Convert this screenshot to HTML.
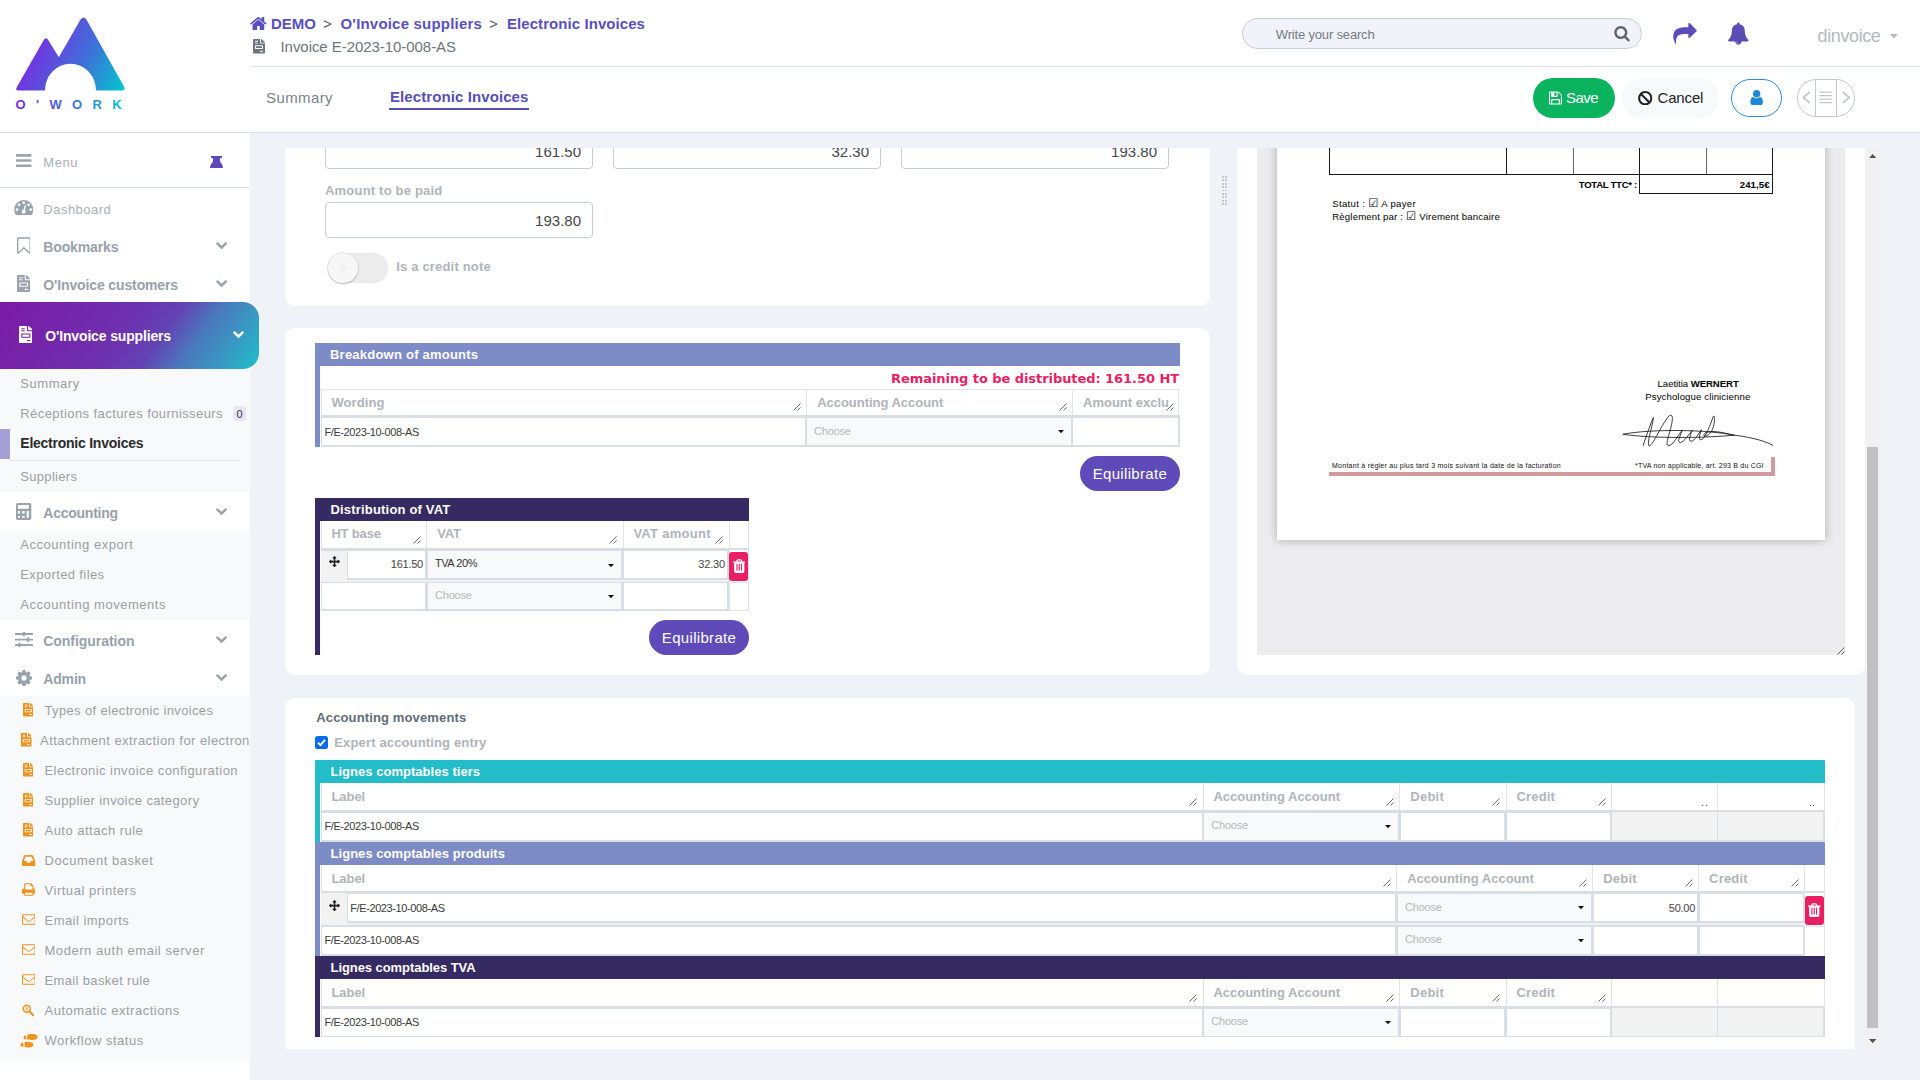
<!DOCTYPE html>
<html lang="en"><head><meta charset="utf-8"><title>Invoice E-2023-10-008-AS</title>
<style>
html,body{margin:0;padding:0}
body{width:1920px;height:1080px;overflow:hidden;position:relative;background:#eff2f7;font-family:"Liberation Sans",sans-serif;}
.a{position:absolute;display:block}
.t{position:absolute;white-space:nowrap;display:block}
</style></head>
<body>
<div class="a" style="left:0px;top:0px;width:250px;height:1080px;background:#fff;"></div>
<svg class="a" style="left:0;top:0" width="250" height="132" viewBox="0 0 250 132">
<defs><linearGradient id="lg" x1="28" y1="45" x2="122" y2="92" gradientUnits="userSpaceOnUse"><stop offset="0" stop-color="#7a2be2"/><stop offset="0.55" stop-color="#3f6fd8"/><stop offset="1" stop-color="#04c4cf"/></linearGradient>
<linearGradient id="lg2" x1="16" y1="0" x2="125" y2="0" gradientUnits="userSpaceOnUse"><stop offset="0" stop-color="#7a2be2"/><stop offset="0.5" stop-color="#3f6fd8"/><stop offset="1" stop-color="#04c4cf"/></linearGradient></defs>
<path fill="url(#lg)" d="M18.6 90.5 Q14.8 90.5 16.9 87 L43.6 40.2 Q46 36.4 48.4 40.2 L58.8 57.2 L80.6 19.6 Q83.5 15.6 86.4 19.6 L124 86.5 Q126 90.5 121.8 90.5 L96 90.5 A25.5 26.8 0 0 0 45 90.5 Z"/>
<text x="15.5" y="109.3" font-family="Liberation Sans, sans-serif" font-weight="700" font-size="13" letter-spacing="10.35" fill="url(#lg2)">O'WORK</text>
</svg>
<svg class="a" style="left:16px;top:154px" width="15.5" height="13" viewBox="0 -1280 1536 1280" preserveAspectRatio="xMidYMid meet"><path fill="#9aa3ad" transform="scale(1,-1)" d="M1536 192C1536 227 1507 256 1472 256H64C29 256 0 227 0 192V64C0 29 29 0 64 0H1472C1507 0 1536 29 1536 64ZM1536 704C1536 739 1507 768 1472 768H64C29 768 0 739 0 704V576C0 541 29 512 64 512H1472C1507 512 1536 541 1536 576ZM1536 1216C1536 1251 1507 1280 1472 1280H64C29 1280 0 1251 0 1216V1088C0 1053 29 1024 64 1024H1472C1507 1024 1536 1053 1536 1088Z"/></svg>
<span class="t" id="t1" style="left:43.3px;top:154.7px;font-size:13px;line-height:15px;color:#a7afb7;letter-spacing:0.542px;">Menu</span>
<svg class="a" style="left:210px;top:155.8px" width="13" height="12.3" viewBox="0 0 13 12.3"><path fill="#5d48bb" d="M1.6 0H11.4Q12 0 12 .6V1.600Q12 2.2 11.4 2.200H9.800L10.3 6.200Q13 8 13 11.200Q13 12.3 12 12.300H1Q0 12.3 0 11.200Q0 8 2.7 6.200L3.2 2.200H1.600Q1 2.2 1 1.600V.6Q1 0 1.6 0Z"/></svg>
<div class="a" style="left:0px;top:187px;width:250px;height:1px;background:#dde1e9;"></div>
<svg class="a" style="left:13.7px;top:200px" width="19.6" height="15" viewBox="0 -1280 1792 1408" preserveAspectRatio="xMidYMid meet"><path fill="#9aa3ad" transform="scale(1,-1)" d="M384 384C384 313 327 256 256 256C185 256 128 313 128 384C128 455 185 512 256 512C327 512 384 455 384 384ZM576 832C576 761 519 704 448 704C377 704 320 761 320 832C320 903 377 960 448 960C519 960 576 903 576 832ZM1004 351C1069 306 1103 224 1082 143C1055 41 950 -21 847 6C745 33 683 138 710 241C732 322 801 377 880 383L981 765C990 799 1025 820 1059 811C1093 802 1113 767 1105 733ZM1664 384C1664 313 1607 256 1536 256C1465 256 1408 313 1408 384C1408 455 1465 512 1536 512C1607 512 1664 455 1664 384ZM1024 1024C1024 953 967 896 896 896C825 896 768 953 768 1024C768 1095 825 1152 896 1152C967 1152 1024 1095 1024 1024ZM1472 832C1472 761 1415 704 1344 704C1273 704 1216 761 1216 832C1216 903 1273 960 1344 960C1415 960 1472 903 1472 832ZM1792 384C1792 878 1390 1280 896 1280C402 1280 0 878 0 384C0 212 49 45 141 -99C153 -117 173 -128 195 -128H1597C1619 -128 1639 -117 1651 -99C1743 46 1792 212 1792 384Z"/></svg>
<span class="t" id="t2" style="left:43.3px;top:201.7px;font-size:13px;line-height:15px;color:#a7afb7;letter-spacing:0.488px;">Dashboard</span>
<svg class="a" style="left:16.7px;top:237px" width="13.8" height="17" viewBox="0 -1408 1280 1513" preserveAspectRatio="xMidYMid meet"><path fill="#9aa3ad" transform="scale(1,-1)" d="M1152 1280V38L729 444L640 529L551 444L128 38V1280H1152ZM1164 1408C1133 1408 147 1408 116 1408C101 1408 86 1405 72 1399C28 1382 0 1341 0 1296V7C0 -38 28 -79 72 -96C86 -102 101 -105 116 -105C147 -105 176 -93 199 -72L640 352L1081 -72C1104 -93 1133 -104 1164 -104C1179 -104 1194 -102 1208 -96C1252 -79 1280 -38 1280 7V1296C1280 1341 1252 1382 1208 1399C1194 1405 1179 1408 1164 1408Z"/></svg>
<span class="t" id="t3" style="left:43.3px;top:238.7px;font-size:14px;line-height:16px;color:#98a1ab;letter-spacing:-0.141px;font-weight:700;">Bookmarks</span>
<svg class="a" style="left:215.8px;top:242px" width="11.2" height="7.2" viewBox="90 -1003 1612 1034" preserveAspectRatio="xMidYMid meet"><path fill="#9aa3ad" transform="scale(1,-1)" d="M1683 728C1708 753 1708 794 1683 819L1517 984C1492 1009 1452 1009 1427 984L896 453L365 984C340 1009 300 1009 275 984L109 819C84 794 84 753 109 728L851 -13C876 -38 916 -38 941 -13L1683 728Z"/></svg>
<svg class="a" style="left:17px;top:275px" width="13.3" height="17" viewBox="0 0 384 512" preserveAspectRatio="none"><path fill="#9aa3ad" fill-rule="evenodd" d="M288 256H96v64h192v-64zm89-151L279.1 7c-4.5-4.5-10.6-7-17-7H256v128h128v-6.1c0-6.3-2.5-12.4-7-16.9zm-153 31V0H24C10.7 0 0 10.7 0 24v464c0 13.3 10.7 24 24 24h336c13.3 0 24-10.7 24-24V160H248c-13.2 0-24-10.8-24-24zM64 72c0-4.42 3.58-8 8-8h80c4.42 0 8 3.58 8 8v16c0 4.42-3.58 8-8 8H72c-4.42 0-8-3.58-8-8V72zm0 64c0-4.42 3.58-8 8-8h80c4.42 0 8 3.58 8 8v16c0 4.42-3.58 8-8 8H72c-4.42 0-8-3.58-8-8v-16zm256 304c0 4.42-3.58 8-8 8h-80c-4.42 0-8-3.58-8-8v-16c0-4.42 3.58-8 8-8h80c4.42 0 8 3.58 8 8v16zm0-200v96c0 8.84-7.16 16-16 16H80c-8.84 0-16-7.16-16-16v-96c0-8.84 7.16-16 16-16h224c8.84 0 16 7.16 16 16z"/></svg>
<span class="t" id="t4" style="left:43.3px;top:276.7px;font-size:14px;line-height:16px;color:#98a1ab;letter-spacing:-0.129px;font-weight:700;">O'Invoice customers</span>
<svg class="a" style="left:215.8px;top:280px" width="11.2" height="7.2" viewBox="90 -1003 1612 1034" preserveAspectRatio="xMidYMid meet"><path fill="#9aa3ad" transform="scale(1,-1)" d="M1683 728C1708 753 1708 794 1683 819L1517 984C1492 1009 1452 1009 1427 984L896 453L365 984C340 1009 300 1009 275 984L109 819C84 794 84 753 109 728L851 -13C876 -38 916 -38 941 -13L1683 728Z"/></svg>
<div class="a" style="left:0px;top:369px;width:250px;height:123px;background:#f8f9fb;"></div>
<div class="a" style="left:0px;top:530px;width:250px;height:90px;background:#f8f9fb;"></div>
<div class="a" style="left:0px;top:696px;width:250px;height:366px;background:#f8f9fb;"></div>
<div class="a" style="left:0px;top:302px;width:259px;height:67px;background:linear-gradient(125deg,#7b1aa6 0%,#6d32af 48%,#6244b4 61%,#4a78bd 73%,#3d90c1 83%,#1fc0ca 100%);border-radius:0 16px 16px 0;"></div>
<svg class="a" style="left:18.8px;top:325.8px" width="13.7" height="17.2" viewBox="0 0 384 512" preserveAspectRatio="none"><path fill="#fff" fill-rule="evenodd" d="M288 256H96v64h192v-64zm89-151L279.1 7c-4.5-4.5-10.6-7-17-7H256v128h128v-6.1c0-6.3-2.5-12.4-7-16.9zm-153 31V0H24C10.7 0 0 10.7 0 24v464c0 13.3 10.7 24 24 24h336c13.3 0 24-10.7 24-24V160H248c-13.2 0-24-10.8-24-24zM64 72c0-4.42 3.58-8 8-8h80c4.42 0 8 3.58 8 8v16c0 4.42-3.58 8-8 8H72c-4.42 0-8-3.58-8-8V72zm0 64c0-4.42 3.58-8 8-8h80c4.42 0 8 3.58 8 8v16c0 4.42-3.58 8-8 8H72c-4.42 0-8-3.58-8-8v-16zm256 304c0 4.42-3.58 8-8 8h-80c-4.42 0-8-3.58-8-8v-16c0-4.42 3.58-8 8-8h80c4.42 0 8 3.58 8 8v16zm0-200v96c0 8.84-7.16 16-16 16H80c-8.84 0-16-7.16-16-16v-96c0-8.84 7.16-16 16-16h224c8.84 0 16 7.16 16 16z"/></svg>
<span class="t" id="t5" style="left:45.3px;top:327.8px;font-size:14px;line-height:16px;color:#fff;letter-spacing:-0.152px;font-weight:700;">O'Invoice suppliers</span>
<svg class="a" style="left:232.8px;top:330.8px" width="11" height="7.2" viewBox="90 -1003 1612 1034" preserveAspectRatio="xMidYMid meet"><path fill="#fff" transform="scale(1,-1)" d="M1683 728C1708 753 1708 794 1683 819L1517 984C1492 1009 1452 1009 1427 984L896 453L365 984C340 1009 300 1009 275 984L109 819C84 794 84 753 109 728L851 -13C876 -38 916 -38 941 -13L1683 728Z"/></svg>
<span class="t" id="t6" style="left:20.3px;top:375.5px;font-size:13px;line-height:15px;color:#9a9fa6;letter-spacing:0.539px;">Summary</span>
<span class="t" id="t7" style="left:20.3px;top:405.5px;font-size:13px;line-height:15px;color:#9a9fa6;letter-spacing:0.418px;">Réceptions factures fournisseurs</span>
<div class="a" style="left:233px;top:406px;width:13px;height:15px;background:#e9e6f6;border-radius:3px;"></div>
<span class="t" id="t8" style="left:236.5px;top:407.5px;font-size:11px;line-height:12px;color:#333;">0</span>
<div class="a" style="left:0px;top:429px;width:10px;height:30px;background:#a59fd6;"></div>
<span class="t" id="t9" style="left:20.3px;top:434.5px;font-size:14px;line-height:16px;color:#2b2b2b;letter-spacing:-0.243px;font-weight:700;">Electronic Invoices</span>
<div class="a" style="left:10px;top:460px;width:230px;height:1px;background:#e4e6eb;"></div>
<span class="t" id="t10" style="left:20.3px;top:468.7px;font-size:13px;line-height:15px;color:#9a9fa6;letter-spacing:0.311px;">Suppliers</span>
<svg class="a" style="left:16.3px;top:503px" width="15.3" height="17" viewBox="0 0 15.3 17"><path fill="#9aa3ad" fill-rule="evenodd" d="M1.7 0h11.9a1.7 1.7 0 0 1 1.7 1.7v13.6a1.7 1.7 0 0 1-1.7 1.7H1.7A1.7 1.7 0 0 1 0 15.3V1.7A1.7 1.7 0 0 1 1.7 0zM1.9 1.900v3.900h10.900V1.900zM1.9 8v2.600h2.100V8zM6 8v2.600h2.600V8zM1.9 12.900v1.900h2.100v-1.900zM6 12.900v1.900h2.600v-1.900zM10.7 8v6.800h2.100V8z"/></svg>
<span class="t" id="t11" style="left:43.3px;top:505.20000000000005px;font-size:14px;line-height:16px;color:#98a1ab;letter-spacing:-0.250px;font-weight:700;">Accounting</span>
<svg class="a" style="left:216px;top:507.8px" width="11" height="7.2" viewBox="90 -1003 1612 1034" preserveAspectRatio="xMidYMid meet"><path fill="#9aa3ad" transform="scale(1,-1)" d="M1683 728C1708 753 1708 794 1683 819L1517 984C1492 1009 1452 1009 1427 984L896 453L365 984C340 1009 300 1009 275 984L109 819C84 794 84 753 109 728L851 -13C876 -38 916 -38 941 -13L1683 728Z"/></svg>
<span class="t" id="t12" style="left:20.3px;top:536.9px;font-size:13px;line-height:15px;color:#9a9fa6;letter-spacing:0.525px;">Accounting export</span>
<span class="t" id="t13" style="left:20.3px;top:566.9px;font-size:13px;line-height:15px;color:#9a9fa6;letter-spacing:0.381px;">Exported files</span>
<span class="t" id="t14" style="left:20.3px;top:596.9px;font-size:13px;line-height:15px;color:#9a9fa6;letter-spacing:0.529px;">Accounting movements</span>
<svg class="a" style="left:15px;top:632px" width="17.8" height="15" viewBox="0 0 17.8 15"><path fill="#9aa3ad" d="M.5 1.100h16.800a.5.5 0 0 1 0 1.900H.5a.5.5 0 0 1 0-1.900zM.5 6.700h16.800a.5.5 0 0 1 0 1.900H.5a.5.5 0 0 1 0-1.900zM.5 12h16.800a.5.5 0 0 1 0 1.900H.5a.5.5 0 0 1 0-1.900zM7.8.5a1.1 1.1 0 0 1 2.2 0v3a1.1 1.1 0 0 1-2.2 0zM12.1 6.200a1.1 1.1 0 0 1 2.2 0v2.900a1.1 1.1 0 0 1-2.2 0zM3.4 11.500a1.1 1.1 0 0 1 2.2 0v2.900a1.1 1.1 0 0 1-2.2 0z"/></svg>
<span class="t" id="t15" style="left:43.3px;top:632.6px;font-size:14px;line-height:16px;color:#98a1ab;letter-spacing:-0.051px;font-weight:700;">Configuration</span>
<svg class="a" style="left:216px;top:635.5px" width="11" height="7.2" viewBox="90 -1003 1612 1034" preserveAspectRatio="xMidYMid meet"><path fill="#9aa3ad" transform="scale(1,-1)" d="M1683 728C1708 753 1708 794 1683 819L1517 984C1492 1009 1452 1009 1427 984L896 453L365 984C340 1009 300 1009 275 984L109 819C84 794 84 753 109 728L851 -13C876 -38 916 -38 941 -13L1683 728Z"/></svg>
<svg class="a" style="left:16px;top:669.6px" width="16" height="16" viewBox="0 -1408 1536 1536" preserveAspectRatio="xMidYMid meet"><path fill="#9aa3ad" transform="scale(1,-1)" d="M1024 640C1024 499 909 384 768 384C627 384 512 499 512 640C512 781 627 896 768 896C909 896 1024 781 1024 640ZM1536 749C1536 766 1524 782 1507 785L1324 813C1314 846 1300 879 1283 911C1317 958 1354 1002 1388 1048C1393 1055 1396 1062 1396 1071C1396 1079 1394 1087 1389 1093C1347 1152 1277 1214 1224 1263C1217 1269 1208 1273 1199 1273C1190 1273 1181 1270 1175 1264L1033 1157C1004 1172 974 1184 943 1194L915 1378C913 1395 897 1408 879 1408H657C639 1408 625 1396 621 1380C605 1320 599 1255 592 1194C561 1184 530 1171 501 1156L363 1263C355 1269 346 1273 337 1273C303 1273 168 1127 144 1094C139 1087 135 1080 135 1071C135 1062 139 1054 145 1047C182 1002 218 957 252 909C236 879 223 849 213 817L27 789C12 786 0 768 0 753V531C0 514 12 498 29 495L212 468C222 434 236 401 253 369C219 322 182 278 148 232C143 225 140 218 140 209C140 201 142 193 147 186C189 128 259 66 312 18C319 11 328 7 337 7C346 7 355 10 362 16L503 123C532 108 562 96 593 86L621 -98C623 -115 639 -128 657 -128H879C897 -128 911 -116 915 -100C931 -40 937 25 944 86C975 96 1006 109 1035 124L1173 16C1181 11 1190 7 1199 7C1233 7 1368 154 1392 186C1398 193 1401 200 1401 209C1401 218 1397 227 1391 234C1354 279 1318 323 1284 372C1300 401 1312 431 1323 463L1508 491C1524 494 1536 512 1536 527Z"/></svg>
<span class="t" id="t16" style="left:43.3px;top:671px;font-size:14px;line-height:16px;color:#98a1ab;letter-spacing:-0.172px;font-weight:700;">Admin</span>
<svg class="a" style="left:216px;top:673.5px" width="11" height="7.2" viewBox="90 -1003 1612 1034" preserveAspectRatio="xMidYMid meet"><path fill="#9aa3ad" transform="scale(1,-1)" d="M1683 728C1708 753 1708 794 1683 819L1517 984C1492 1009 1452 1009 1427 984L896 453L365 984C340 1009 300 1009 275 984L109 819C84 794 84 753 109 728L851 -13C876 -38 916 -38 941 -13L1683 728Z"/></svg>
<svg class="a" style="left:22.9px;top:703.2px" width="10.5" height="13.6" viewBox="0 0 384 512" preserveAspectRatio="none"><path fill="#f0931e" fill-rule="evenodd" d="M288 256H96v64h192v-64zm89-151L279.1 7c-4.5-4.5-10.6-7-17-7H256v128h128v-6.1c0-6.3-2.5-12.4-7-16.9zm-153 31V0H24C10.7 0 0 10.7 0 24v464c0 13.3 10.7 24 24 24h336c13.3 0 24-10.7 24-24V160H248c-13.2 0-24-10.8-24-24zM64 72c0-4.42 3.58-8 8-8h80c4.42 0 8 3.58 8 8v16c0 4.42-3.58 8-8 8H72c-4.42 0-8-3.58-8-8V72zm0 64c0-4.42 3.58-8 8-8h80c4.42 0 8 3.58 8 8v16c0 4.42-3.58 8-8 8H72c-4.42 0-8-3.58-8-8v-16zm256 304c0 4.42-3.58 8-8 8h-80c-4.42 0-8-3.58-8-8v-16c0-4.42 3.58-8 8-8h80c4.42 0 8 3.58 8 8v16zm0-200v96c0 8.84-7.16 16-16 16H80c-8.84 0-16-7.16-16-16v-96c0-8.84 7.16-16 16-16h224c8.84 0 16 7.16 16 16z"/></svg>
<span class="t" id="t17" style="left:44.5px;top:703px;font-size:13px;line-height:15px;color:#9a9fa6;letter-spacing:0.351px;">Types of electronic invoices</span>
<svg class="a" style="left:21.1px;top:733.2px" width="10.5" height="13.6" viewBox="0 0 384 512" preserveAspectRatio="none"><path fill="#f0931e" fill-rule="evenodd" d="M288 256H96v64h192v-64zm89-151L279.1 7c-4.5-4.5-10.6-7-17-7H256v128h128v-6.1c0-6.3-2.5-12.4-7-16.9zm-153 31V0H24C10.7 0 0 10.7 0 24v464c0 13.3 10.7 24 24 24h336c13.3 0 24-10.7 24-24V160H248c-13.2 0-24-10.8-24-24zM64 72c0-4.42 3.58-8 8-8h80c4.42 0 8 3.58 8 8v16c0 4.42-3.58 8-8 8H72c-4.42 0-8-3.58-8-8V72zm0 64c0-4.42 3.58-8 8-8h80c4.42 0 8 3.58 8 8v16c0 4.42-3.58 8-8 8H72c-4.42 0-8-3.58-8-8v-16zm256 304c0 4.42-3.58 8-8 8h-80c-4.42 0-8-3.58-8-8v-16c0-4.42 3.58-8 8-8h80c4.42 0 8 3.58 8 8v16zm0-200v96c0 8.84-7.16 16-16 16H80c-8.84 0-16-7.16-16-16v-96c0-8.84 7.16-16 16-16h224c8.84 0 16 7.16 16 16z"/></svg>
<span class="t" id="attach" style="left:40.1px;top:733px;font-size:13px;line-height:15px;color:#9a9fa6;width:209.9px;overflow:hidden;white-space:nowrap;letter-spacing:0.45px;">Attachment extraction for electronic invoices</span>
<svg class="a" style="left:22.9px;top:763.2px" width="10.5" height="13.6" viewBox="0 0 384 512" preserveAspectRatio="none"><path fill="#f0931e" fill-rule="evenodd" d="M288 256H96v64h192v-64zm89-151L279.1 7c-4.5-4.5-10.6-7-17-7H256v128h128v-6.1c0-6.3-2.5-12.4-7-16.9zm-153 31V0H24C10.7 0 0 10.7 0 24v464c0 13.3 10.7 24 24 24h336c13.3 0 24-10.7 24-24V160H248c-13.2 0-24-10.8-24-24zM64 72c0-4.42 3.58-8 8-8h80c4.42 0 8 3.58 8 8v16c0 4.42-3.58 8-8 8H72c-4.42 0-8-3.58-8-8V72zm0 64c0-4.42 3.58-8 8-8h80c4.42 0 8 3.58 8 8v16c0 4.42-3.58 8-8 8H72c-4.42 0-8-3.58-8-8v-16zm256 304c0 4.42-3.58 8-8 8h-80c-4.42 0-8-3.58-8-8v-16c0-4.42 3.58-8 8-8h80c4.42 0 8 3.58 8 8v16zm0-200v96c0 8.84-7.16 16-16 16H80c-8.84 0-16-7.16-16-16v-96c0-8.84 7.16-16 16-16h224c8.84 0 16 7.16 16 16z"/></svg>
<span class="t" id="t19" style="left:44.5px;top:763px;font-size:13px;line-height:15px;color:#9a9fa6;letter-spacing:0.446px;">Electronic invoice configuration</span>
<svg class="a" style="left:22.9px;top:793.2px" width="10.5" height="13.6" viewBox="0 0 384 512" preserveAspectRatio="none"><path fill="#f0931e" fill-rule="evenodd" d="M288 256H96v64h192v-64zm89-151L279.1 7c-4.5-4.5-10.6-7-17-7H256v128h128v-6.1c0-6.3-2.5-12.4-7-16.9zm-153 31V0H24C10.7 0 0 10.7 0 24v464c0 13.3 10.7 24 24 24h336c13.3 0 24-10.7 24-24V160H248c-13.2 0-24-10.8-24-24zM64 72c0-4.42 3.58-8 8-8h80c4.42 0 8 3.58 8 8v16c0 4.42-3.58 8-8 8H72c-4.42 0-8-3.58-8-8V72zm0 64c0-4.42 3.58-8 8-8h80c4.42 0 8 3.58 8 8v16c0 4.42-3.58 8-8 8H72c-4.42 0-8-3.58-8-8v-16zm256 304c0 4.42-3.58 8-8 8h-80c-4.42 0-8-3.58-8-8v-16c0-4.42 3.58-8 8-8h80c4.42 0 8 3.58 8 8v16zm0-200v96c0 8.84-7.16 16-16 16H80c-8.84 0-16-7.16-16-16v-96c0-8.84 7.16-16 16-16h224c8.84 0 16 7.16 16 16z"/></svg>
<span class="t" id="t20" style="left:44.5px;top:793px;font-size:13px;line-height:15px;color:#9a9fa6;letter-spacing:0.382px;">Supplier invoice category</span>
<svg class="a" style="left:22.9px;top:823.2px" width="10.5" height="13.6" viewBox="0 0 384 512" preserveAspectRatio="none"><path fill="#f0931e" fill-rule="evenodd" d="M288 256H96v64h192v-64zm89-151L279.1 7c-4.5-4.5-10.6-7-17-7H256v128h128v-6.1c0-6.3-2.5-12.4-7-16.9zm-153 31V0H24C10.7 0 0 10.7 0 24v464c0 13.3 10.7 24 24 24h336c13.3 0 24-10.7 24-24V160H248c-13.2 0-24-10.8-24-24zM64 72c0-4.42 3.58-8 8-8h80c4.42 0 8 3.58 8 8v16c0 4.42-3.58 8-8 8H72c-4.42 0-8-3.58-8-8V72zm0 64c0-4.42 3.58-8 8-8h80c4.42 0 8 3.58 8 8v16c0 4.42-3.58 8-8 8H72c-4.42 0-8-3.58-8-8v-16zm256 304c0 4.42-3.58 8-8 8h-80c-4.42 0-8-3.58-8-8v-16c0-4.42 3.58-8 8-8h80c4.42 0 8 3.58 8 8v16zm0-200v96c0 8.84-7.16 16-16 16H80c-8.84 0-16-7.16-16-16v-96c0-8.84 7.16-16 16-16h224c8.84 0 16 7.16 16 16z"/></svg>
<span class="t" id="t21" style="left:44.5px;top:823px;font-size:13px;line-height:15px;color:#9a9fa6;letter-spacing:0.484px;">Auto attach rule</span>
<svg class="a" style="left:20.8px;top:854.7px" width="15.2" height="11" viewBox="0 -1280 1536 1280" preserveAspectRatio="xMidYMid meet"><path fill="#f0931e" transform="scale(1,-1)" d="M1023 576 928 384H608L513 576H197C199 581 200 587 202 592L414 1088H1122L1334 592C1336 587 1337 581 1339 576ZM1536 546C1536 582 1525 635 1511 669L1273 1221C1259 1254 1219 1280 1184 1280H352C317 1280 277 1254 263 1221L25 669C11 635 0 582 0 546V64C0 29 29 0 64 0H1472C1507 0 1536 29 1536 64Z"/></svg>
<span class="t" id="t22" style="left:44.5px;top:853px;font-size:13px;line-height:15px;color:#9a9fa6;letter-spacing:0.522px;">Document basket</span>
<svg class="a" style="left:21.5px;top:883.3px" width="13.6" height="13" viewBox="0 -1408 1664 1536" preserveAspectRatio="xMidYMid meet"><path fill="#f0931e" transform="scale(1,-1)" d="M384 0V256H1280V0ZM384 640V1280H1024V1120C1024 1067 1067 1024 1120 1024H1280V640ZM1536 576C1536 541 1507 512 1472 512C1437 512 1408 541 1408 576C1408 611 1437 640 1472 640C1507 640 1536 611 1536 576ZM1664 576C1664 681 1577 768 1472 768H1408V1024C1408 1077 1378 1150 1340 1188L1188 1340C1150 1378 1077 1408 1024 1408H352C299 1408 256 1365 256 1312V768H192C87 768 0 681 0 576V160C0 143 15 128 32 128H256V-32C256 -85 299 -128 352 -128H1312C1365 -128 1408 -85 1408 -32V128H1632C1649 128 1664 143 1664 160Z"/></svg>
<span class="t" id="t23" style="left:44.5px;top:883px;font-size:13px;line-height:15px;color:#9a9fa6;letter-spacing:0.526px;">Virtual printers</span>
<svg class="a" style="left:21.5px;top:914.2px" width="13.6" height="11" viewBox="0 -1280 1792 1408" preserveAspectRatio="xMidYMid meet"><path fill="#f0931e" transform="scale(1,-1)" d="M1664 32C1664 15 1649 0 1632 0H160C143 0 128 15 128 32V800C149 776 172 754 197 734C340 624 484 512 623 396C698 333 791 256 895 256H896H897C1001 256 1094 333 1169 396C1308 512 1452 624 1595 734C1620 754 1643 776 1664 800V32ZM1664 1083C1664 998 1582 887 1517 836C1383 731 1249 625 1116 519C1063 476 967 384 897 384H896H895C825 384 729 476 676 519C543 625 409 731 275 836C185 907 128 1006 128 1120C128 1137 143 1152 160 1152H1632C1670 1152 1664 1108 1664 1083ZM1792 1120C1792 1208 1720 1280 1632 1280H160C72 1280 0 1208 0 1120V32C0 -56 72 -128 160 -128H1632C1720 -128 1792 -56 1792 32Z"/></svg>
<span class="t" id="t24" style="left:44.5px;top:913px;font-size:13px;line-height:15px;color:#9a9fa6;letter-spacing:0.465px;">Email imports</span>
<svg class="a" style="left:21.5px;top:944.2px" width="13.6" height="11" viewBox="0 -1280 1792 1408" preserveAspectRatio="xMidYMid meet"><path fill="#f0931e" transform="scale(1,-1)" d="M1664 32C1664 15 1649 0 1632 0H160C143 0 128 15 128 32V800C149 776 172 754 197 734C340 624 484 512 623 396C698 333 791 256 895 256H896H897C1001 256 1094 333 1169 396C1308 512 1452 624 1595 734C1620 754 1643 776 1664 800V32ZM1664 1083C1664 998 1582 887 1517 836C1383 731 1249 625 1116 519C1063 476 967 384 897 384H896H895C825 384 729 476 676 519C543 625 409 731 275 836C185 907 128 1006 128 1120C128 1137 143 1152 160 1152H1632C1670 1152 1664 1108 1664 1083ZM1792 1120C1792 1208 1720 1280 1632 1280H160C72 1280 0 1208 0 1120V32C0 -56 72 -128 160 -128H1632C1720 -128 1792 -56 1792 32Z"/></svg>
<span class="t" id="t25" style="left:44.5px;top:943px;font-size:13px;line-height:15px;color:#9a9fa6;letter-spacing:0.537px;">Modern auth email server</span>
<svg class="a" style="left:21.5px;top:974.2px" width="13.6" height="11" viewBox="0 -1280 1792 1408" preserveAspectRatio="xMidYMid meet"><path fill="#f0931e" transform="scale(1,-1)" d="M1664 32C1664 15 1649 0 1632 0H160C143 0 128 15 128 32V800C149 776 172 754 197 734C340 624 484 512 623 396C698 333 791 256 895 256H896H897C1001 256 1094 333 1169 396C1308 512 1452 624 1595 734C1620 754 1643 776 1664 800V32ZM1664 1083C1664 998 1582 887 1517 836C1383 731 1249 625 1116 519C1063 476 967 384 897 384H896H895C825 384 729 476 676 519C543 625 409 731 275 836C185 907 128 1006 128 1120C128 1137 143 1152 160 1152H1632C1670 1152 1664 1108 1664 1083ZM1792 1120C1792 1208 1720 1280 1632 1280H160C72 1280 0 1208 0 1120V32C0 -56 72 -128 160 -128H1632C1720 -128 1792 -56 1792 32Z"/></svg>
<span class="t" id="t26" style="left:44.5px;top:973px;font-size:13px;line-height:15px;color:#9a9fa6;letter-spacing:0.352px;">Email basket rule</span>
<svg class="a" style="left:21.6px;top:1004px" width="12.6" height="12.6" viewBox="0 0 14 14"><circle cx="5.3" cy="5.3" r="3.9" fill="none" stroke="#f0931e" stroke-width="1.7"/><path d="M8.3 8.3 L12.6 12.6" stroke="#f0931e" stroke-width="2.2" stroke-linecap="round"/><path d="M5.3 3.2v4.2M6.3 4.3c-.6-.5-2-.4-2 .3 0 .9 2 .5 2 1.4 0 .7-1.4.8-2 .3" stroke="#f0931e" stroke-width=".7" fill="none"/></svg>
<span class="t" id="t27" style="left:44.5px;top:1003px;font-size:13px;line-height:15px;color:#9a9fa6;letter-spacing:0.525px;">Automatic extractions</span>
<svg class="a" style="left:19.5px;top:1033.5px" width="18" height="14" viewBox="0 0 18 14"><path fill="#f0931e" d="M7.2 1.2c2.2-1.4 6.8-1.4 9.2-.2 1.6.8 1.6 3.4-.2 4.2-2.2 1-5 .8-7.6.4-1-.2-1.4-.2-1.4-.2zM5.8 1.600l.6 3.6-1.4.200c-.8 0-1.4-.8-1.4-2 0-1 .8-1.8 2.2-1.800zM4.6 8.200c2.2-.6 5.4-.6 7.6.6 1.6.8 1.4 3.2-.2 4-2.2 1-5.4.8-7.4.2zM3.2 8.600l.4 4.200c-1.4.2-3-.4-3.2-1.8-.2-1.2.8-2.2 2.8-2.400z"/></svg>
<span class="t" id="t28" style="left:44.5px;top:1033px;font-size:13px;line-height:15px;color:#9a9fa6;letter-spacing:0.512px;">Workflow status</span>
<div class="a" style="left:250px;top:0px;width:1670px;height:132px;background:#fff;"></div>
<div class="a" style="left:250px;top:66px;width:1670px;height:1px;background:#dde1e9;"></div>
<div class="a" style="left:0px;top:132px;width:1920px;height:1px;background:#d9dde6;"></div>
<svg class="a" style="left:250px;top:17px" width="16.8" height="13" viewBox="26 -1283 1612 1283" preserveAspectRatio="xMidYMid meet"><path fill="#5a4fbf" transform="scale(1,-1)" d="M1408 544C1408 546 1408 548 1407 550L832 1024L257 550C257 548 256 546 256 544V64C256 29 285 0 320 0H704V384H960V0H1344C1379 0 1408 29 1408 64ZM1631 613C1642 626 1640 647 1627 658L1408 840V1248C1408 1266 1394 1280 1376 1280H1184C1166 1280 1152 1266 1152 1248V1053L908 1257C866 1292 798 1292 756 1257L37 658C24 647 22 626 33 613L95 539C100 533 108 529 116 528C125 527 133 530 140 535L832 1112L1524 535C1530 530 1537 528 1545 528C1546 528 1547 528 1548 528C1556 529 1564 533 1569 539L1631 613Z"/></svg>
<span class="t" id="t29" style="left:271px;top:15px;font-size:15px;line-height:17px;color:#5a4fbf;letter-spacing:0.000px;font-weight:700;">DEMO</span>
<span class="t" id="t30" style="left:323px;top:15px;font-size:15px;line-height:17px;color:#555;letter-spacing:0.234px;">&gt;</span>
<span class="t" id="t31" style="left:340.5px;top:15px;font-size:15px;line-height:17px;color:#5a4fbf;letter-spacing:0.196px;font-weight:700;">O'Invoice suppliers</span>
<span class="t" id="t32" style="left:489px;top:15px;font-size:15px;line-height:17px;color:#555;letter-spacing:-0.766px;">&gt;</span>
<span class="t" id="t33" style="left:507px;top:15px;font-size:15px;line-height:17px;color:#5a4fbf;letter-spacing:0.067px;font-weight:700;">Electronic Invoices</span>
<svg class="a" style="left:253px;top:39px" width="12" height="14.5" viewBox="0 0 384 512" preserveAspectRatio="none"><path fill="#6c757d" fill-rule="evenodd" d="M288 256H96v64h192v-64zm89-151L279.1 7c-4.5-4.5-10.6-7-17-7H256v128h128v-6.1c0-6.3-2.5-12.4-7-16.9zm-153 31V0H24C10.7 0 0 10.7 0 24v464c0 13.3 10.7 24 24 24h336c13.3 0 24-10.7 24-24V160H248c-13.2 0-24-10.8-24-24zM64 72c0-4.42 3.58-8 8-8h80c4.42 0 8 3.58 8 8v16c0 4.42-3.58 8-8 8H72c-4.42 0-8-3.58-8-8V72zm0 64c0-4.42 3.58-8 8-8h80c4.42 0 8 3.58 8 8v16c0 4.42-3.58 8-8 8H72c-4.42 0-8-3.58-8-8v-16zm256 304c0 4.42-3.58 8-8 8h-80c-4.42 0-8-3.58-8-8v-16c0-4.42 3.58-8 8-8h80c4.42 0 8 3.58 8 8v16zm0-200v96c0 8.84-7.16 16-16 16H80c-8.84 0-16-7.16-16-16v-96c0-8.84 7.16-16 16-16h224c8.84 0 16 7.16 16 16z"/></svg>
<span class="t" id="t34" style="left:280.5px;top:38px;font-size:15px;line-height:17px;color:#6c757d;letter-spacing:-0.053px;">Invoice E-2023-10-008-AS</span>
<span class="t" id="t35" style="left:266px;top:89px;font-size:15px;line-height:17px;color:#7b838a;letter-spacing:0.402px;">Summary</span>
<span class="t" id="t36" style="left:390px;top:88px;font-size:15px;line-height:17px;color:#5650b8;letter-spacing:0.093px;font-weight:700;">Electronic Invoices</span>
<div class="a" style="left:389px;top:108px;width:140px;height:2px;background:#5650b8;"></div>
<div class="a" style="left:1242px;top:18px;width:400px;height:31px;background:#f2f2fb;border:1px solid #c9cdd6;border-radius:16px;box-sizing:border-box;"></div>
<span class="t" id="t37" style="left:1275.8px;top:26.5px;font-size:13px;line-height:15px;color:#737b83;letter-spacing:-0.173px;">Write your search</span>
<svg class="a" style="left:1614px;top:26px" width="16" height="15.5" viewBox="0 -1408 1664 1664" preserveAspectRatio="xMidYMid meet"><path fill="#5f676f" transform="scale(1,-1)" d="M1152 704C1152 457 951 256 704 256C457 256 256 457 256 704C256 951 457 1152 704 1152C951 1152 1152 951 1152 704ZM1664 -128C1664 -94 1650 -61 1627 -38L1284 305C1365 422 1408 562 1408 704C1408 1093 1093 1408 704 1408C315 1408 0 1093 0 704C0 315 315 0 704 0C846 0 986 43 1103 124L1446 -218C1469 -242 1502 -256 1536 -256C1606 -256 1664 -198 1664 -128Z"/></svg>
<svg class="a" style="left:1672.5px;top:23px" width="24" height="21" viewBox="0 -1472 1792 1600" preserveAspectRatio="xMidYMid meet"><path fill="#5b4bbd" transform="scale(1,-1)" d="M1792 896C1792 913 1785 929 1773 941L1261 1453C1249 1465 1233 1472 1216 1472C1181 1472 1152 1443 1152 1408V1152H928C600 1152 192 1094 53 749C11 643 0 528 0 416C0 276 70 93 127 -35C138 -58 149 -90 164 -111C171 -121 178 -128 192 -128C212 -128 224 -112 224 -93C224 -77 220 -59 219 -43C216 -2 214 39 214 80C214 557 497 640 928 640H1152V384C1152 349 1181 320 1216 320C1233 320 1249 327 1261 339L1773 851C1785 863 1792 879 1792 896Z"/></svg>
<svg class="a" style="left:1728px;top:21.7px" width="20.7" height="23.3" viewBox="64 -1536 1664 1792" preserveAspectRatio="xMidYMid meet"><path fill="#5b4db3" transform="scale(1,-1)" d="M912 -160C912 -169 905 -176 896 -176C799 -176 720 -97 720 0C720 9 727 16 736 16C745 16 752 9 752 0C752 -79 817 -144 896 -144C905 -144 912 -151 912 -160ZM1728 128C1580 253 1408 477 1408 960C1408 1152 1249 1362 984 1401C989 1413 992 1426 992 1440C992 1493 949 1536 896 1536C843 1536 800 1493 800 1440C800 1426 803 1413 808 1401C543 1362 384 1152 384 960C384 477 212 253 64 128C64 58 122 0 192 0H640C640 -141 755 -256 896 -256C1037 -256 1152 -141 1152 0H1600C1670 0 1728 58 1728 128Z"/></svg>
<span class="t" id="t38" style="left:1817.5px;top:25.700000000000003px;font-size:18px;line-height:20px;color:#b3b9bf;letter-spacing:-0.381px;">dinvoice</span>
<svg class="a" style="left:1890px;top:33.8px" width="7.8" height="4.5" viewBox="0 0 8 4.5"><path d="M0 0h8L4 4.5z" fill="#b3b9bf"/></svg>
<div class="a" style="left:1533px;top:78px;width:82px;height:39.5px;background:#0ab45f;border-radius:20px;"></div>
<svg class="a" style="left:1549px;top:90.5px" width="13" height="14" viewBox="0 -1408 1536 1536" preserveAspectRatio="xMidYMid meet"><path fill="#fff" transform="scale(1,-1)" d="M384 0V384H1152V0ZM1280 0V416C1280 469 1237 512 1184 512H352C299 512 256 469 256 416V0H128V1280H256V864C256 811 299 768 352 768H928C981 768 1024 811 1024 864V1280C1044 1280 1083 1264 1097 1250L1378 969C1391 956 1408 915 1408 896V0ZM896 928C896 911 881 896 864 896H672C655 896 640 911 640 928V1248C640 1265 655 1280 672 1280H864C881 1280 896 1265 896 1248V928ZM1536 896C1536 949 1506 1022 1468 1060L1188 1340C1150 1378 1077 1408 1024 1408H96C43 1408 0 1365 0 1312V-32C0 -85 43 -128 96 -128H1440C1493 -128 1536 -85 1536 -32Z"/></svg>
<span class="t" id="t39" style="left:1566px;top:88.8px;font-size:15px;line-height:17px;color:#fff;letter-spacing:-0.551px;">Save</span>
<div class="a" style="left:1622px;top:78px;width:96.7px;height:39.5px;background:#f8f9fa;border-radius:20px;"></div>
<svg class="a" style="left:1638.3px;top:90.5px;transform:scaleX(-1)" width="14.5" height="14.3" viewBox="0 -1413 1536 1541" preserveAspectRatio="xMidYMid meet"><path fill="#222" transform="scale(1,-1)" d="M1312 643C1312 341 1068 96 768 96C659 96 557 129 471 185L1225 938C1280 853 1312 752 1312 643ZM313 344C257 430 224 532 224 643C224 944 468 1189 768 1189C879 1189 982 1156 1068 1098ZM1536 643C1536 1068 1192 1413 768 1413C344 1413 0 1068 0 643C0 217 344 -128 768 -128C1192 -128 1536 217 1536 643Z"/></svg>
<span class="t" id="t40" style="left:1657.5px;top:88.8px;font-size:15px;line-height:17px;color:#222;letter-spacing:-0.151px;">Cancel</span>
<div class="a" style="left:1731px;top:79px;width:51px;height:38px;background:#fff;border:1px solid #2a8bdc;border-radius:19px;box-sizing:border-box;"></div>
<svg class="a" style="left:1749.7px;top:90px" width="13.3" height="15" viewBox="0 -1408 1280 1536" preserveAspectRatio="xMidYMid meet"><path fill="#1e88d8" transform="scale(1,-1)" d="M1280 137C1280 400 1215 704 953 704C872 625 762 576 640 576C518 576 408 625 327 704C65 704 0 400 0 137C0 -9 96 -128 213 -128H1067C1184 -128 1280 -9 1280 137ZM1024 1024C1024 1236 852 1408 640 1408C428 1408 256 1236 256 1024C256 812 428 640 640 640C852 640 1024 812 1024 1024Z"/></svg>
<div class="a" style="left:1797px;top:79px;width:58px;height:38px;background:#fff;border:1px solid #c4c8cc;border-radius:19px;box-sizing:border-box;"></div>
<div class="a" style="left:1815px;top:79px;width:1px;height:38px;background:#c4c8cc;"></div>
<div class="a" style="left:1836px;top:79px;width:1px;height:38px;background:#c4c8cc;"></div>
<svg class="a" style="left:1797px;top:79px" width="58" height="38" viewBox="1797 79 58 38"><g fill="none" stroke="#c2c6ca" stroke-width="1.7" stroke-linecap="round" stroke-linejoin="round"><path d="M1809.3 92.300L1803.3 97.500L1809.3 102.7"/><path d="M1843.2 92.300L1849.2 97.500L1843.2 102.7"/></g><g stroke="#c2c6ca" stroke-width="1.3"><path d="M1819.2 92.200h13M1819.2 95.700h13M1819.2 99.200h13M1819.2 102.700h13"/></g></svg>
<div class="a" style="left:0;top:0;width:1920px;height:1080px;clip-path:inset(148px 40px 31px 250px);">
<div class="a" style="left:285px;top:100px;width:925px;height:206px;background:#fff;border-radius:10px;"></div>
<div class="a" style="left:325px;top:133px;width:268px;height:35.5px;background:#fff;border:1px solid #c6ccd5;border-radius:4px;box-sizing:border-box;"></div>
<span class="t" id="n161_50" style="right:1339px;top:143px;font-size:15px;line-height:17px;color:#43474c;">161.50</span>
<div class="a" style="left:613px;top:133px;width:268px;height:35.5px;background:#fff;border:1px solid #c6ccd5;border-radius:4px;box-sizing:border-box;"></div>
<span class="t" id="n32_30" style="right:1051px;top:143px;font-size:15px;line-height:17px;color:#43474c;">32.30</span>
<div class="a" style="left:901px;top:133px;width:268px;height:35.5px;background:#fff;border:1px solid #c6ccd5;border-radius:4px;box-sizing:border-box;"></div>
<span class="t" id="n193_80" style="right:763px;top:143px;font-size:15px;line-height:17px;color:#43474c;">193.80</span>
<span class="t" id="t44" style="left:325px;top:183px;font-size:13px;line-height:15px;color:#afb4ba;letter-spacing:0.199px;font-weight:700;">Amount to be paid</span>
<div class="a" style="left:325px;top:202.3px;width:268px;height:35.5px;background:#fff;border:1px solid #c6ccd5;border-radius:4px;box-sizing:border-box;"></div>
<span class="t" id="n193b" style="right:1339px;top:211.8px;font-size:15px;line-height:17px;color:#43474c;">193.80</span>
<div class="a" style="left:328px;top:253px;width:60px;height:29.5px;background:#ececec;border-radius:15px;box-shadow:inset 0 0 1px rgba(0,0,0,.12);"></div>
<div class="a" style="left:328px;top:253px;width:29.5px;height:29.5px;background:#f7f7f7;border-radius:50%;box-shadow:0 1px 2px rgba(0,0,0,.22),0 0 0 .5px #dadada;"></div>
<div class="a" style="left:338.5px;top:263.5px;width:8.5px;height:8.5px;background:#f2f2f2;border-radius:50%;"></div>
<span class="t" id="t46" style="left:396.3px;top:259.3px;font-size:13px;line-height:15px;color:#afb4ba;letter-spacing:0.172px;font-weight:700;">Is a credit note</span>
<div class="a" style="left:285px;top:328px;width:925px;height:347px;background:#fff;border-radius:10px;"></div>
<div class="a" style="left:315px;top:343px;width:865px;height:23px;background:#7d8bc6;"></div>
<div class="a" style="left:315px;top:343px;width:5px;height:103.8px;background:#7d8bc6;"></div>
<span class="t" id="t47" style="left:330px;top:347.3px;font-size:13px;line-height:15px;color:#fff;letter-spacing:0.228px;font-weight:700;">Breakdown of amounts</span>
<span class="t" id="t48" style="left:891px;top:370.5px;font-size:13px;line-height:15px;color:#e91e63;letter-spacing:-0.062px;font-weight:700;font-family:'DejaVu Sans', sans-serif;">Remaining to be distributed: 161.50 HT</span>
<div class="a" style="left:320.5px;top:389px;width:485.79999999999995px;height:26.19999999999999px;border-left:1px solid #e1e4e9;box-sizing:border-box;border-top:1px solid #e1e4e9;"></div><span class="t" id="t49" style="left:331.4px;top:394.8px;font-size:13px;line-height:15px;color:#afb4ba;letter-spacing:0.088px;font-weight:700;">Wording</span><svg class="a" style="left:792.8px;top:403.2px" width="8" height="8" viewBox="0 0 8 8"><path d="M0.5 7.5L7.5 0.5M4.5 7.5L7.5 4.5" stroke="#444" stroke-width="0.8" fill="none"/></svg>
<div class="a" style="left:806.3px;top:389px;width:266.0px;height:26.19999999999999px;border-left:1px solid #e1e4e9;box-sizing:border-box;border-top:1px solid #e1e4e9;"></div><span class="t" id="t50" style="left:817.1999999999999px;top:394.8px;font-size:13px;line-height:15px;color:#afb4ba;letter-spacing:-0.029px;font-weight:700;">Accounting Account</span><svg class="a" style="left:1058.8px;top:403.2px" width="8" height="8" viewBox="0 0 8 8"><path d="M0.5 7.5L7.5 0.5M4.5 7.5L7.5 4.5" stroke="#444" stroke-width="0.8" fill="none"/></svg>
<div class="a" style="left:1072.3px;top:389px;width:107.20000000000005px;height:26.19999999999999px;border-left:1px solid #e1e4e9;box-sizing:border-box;border-top:1px solid #e1e4e9;border-right:1px solid #e1e4e9;"></div><svg class="a" style="left:1166.0px;top:403.2px" width="8" height="8" viewBox="0 0 8 8"><path d="M0.5 7.5L7.5 0.5M4.5 7.5L7.5 4.5" stroke="#444" stroke-width="0.8" fill="none"/></svg>
<span class="t" id="amex" style="left:1083px;top:394.8px;font-size:13px;line-height:15px;color:#afb4ba;font-weight:700;width:89.5px;overflow:hidden;">Amount exclu</span>
<div class="a" style="left:320.5px;top:415.2px;width:859.5px;height:31.5px;background:#d9dee5;"></div>
<div class="a" style="left:322px;top:417.8px;width:483px;height:27.0px;background:#fff;"></div><span class="t" id="t52" style="left:324.4px;top:425.8px;font-size:11px;line-height:12px;color:#3a3a3a;letter-spacing:-0.389px;">F/E-2023-10-008-AS</span>
<div class="a" style="left:807px;top:417.8px;width:264.29999999999995px;height:27.0px;background:#f8f9fb;"></div><span class="t" id="t53" style="left:814px;top:424.8px;font-size:11px;line-height:12px;color:#b4b8bd;letter-spacing:-0.204px;">Choose</span><svg class="a" style="left:1058.1px;top:430.2px" width="6" height="3.2" viewBox="0 0 6 3.2"><path d="M0 0h6L3 3.2z" fill="#111"/></svg>
<div class="a" style="left:1073.3px;top:417.8px;width:104.40000000000009px;height:27.0px;background:#fff;"></div>
<div class="a" style="left:1080px;top:455.5px;width:100px;height:35px;background:#5e4bb9;border-radius:18px;"></div>
<span class="t" id="t54" style="left:1092.7px;top:464.5px;font-size:15px;line-height:17px;color:#fff;letter-spacing:0.328px;">Equilibrate</span>
<div class="a" style="left:315px;top:498px;width:434px;height:22.8px;background:#362a63;"></div>
<div class="a" style="left:315px;top:498px;width:5px;height:157px;background:#362a63;"></div>
<span class="t" id="t55" style="left:330.5px;top:501.79999999999995px;font-size:13px;line-height:15px;color:#fff;letter-spacing:0.184px;font-weight:700;">Distribution of VAT</span>
<div class="a" style="left:320.5px;top:520.8px;width:105.80000000000001px;height:27.600000000000023px;border-left:1px solid #e1e4e9;box-sizing:border-box;"></div><span class="t" id="t56" style="left:331.4px;top:526.3px;font-size:13px;line-height:15px;color:#afb4ba;letter-spacing:-0.168px;font-weight:700;">HT base</span><svg class="a" style="left:412.8px;top:536.4px" width="8" height="8" viewBox="0 0 8 8"><path d="M0.5 7.5L7.5 0.5M4.5 7.5L7.5 4.5" stroke="#444" stroke-width="0.8" fill="none"/></svg>
<div class="a" style="left:426.3px;top:520.8px;width:196.2px;height:27.600000000000023px;border-left:1px solid #e1e4e9;box-sizing:border-box;"></div><span class="t" id="t57" style="left:437.2px;top:526.3px;font-size:13px;line-height:15px;color:#afb4ba;letter-spacing:-0.159px;font-weight:700;">VAT</span><svg class="a" style="left:609.0px;top:536.4px" width="8" height="8" viewBox="0 0 8 8"><path d="M0.5 7.5L7.5 0.5M4.5 7.5L7.5 4.5" stroke="#444" stroke-width="0.8" fill="none"/></svg>
<div class="a" style="left:622.5px;top:520.8px;width:106.0px;height:27.600000000000023px;border-left:1px solid #e1e4e9;box-sizing:border-box;"></div><span class="t" id="t58" style="left:633.4px;top:526.3px;font-size:13px;line-height:15px;color:#afb4ba;letter-spacing:0.277px;font-weight:700;">VAT amount</span><svg class="a" style="left:715.0px;top:536.4px" width="8" height="8" viewBox="0 0 8 8"><path d="M0.5 7.5L7.5 0.5M4.5 7.5L7.5 4.5" stroke="#444" stroke-width="0.8" fill="none"/></svg>
<div class="a" style="left:728.5px;top:520.8px;width:20.5px;height:27.600000000000023px;border-left:1px solid #e1e4e9;box-sizing:border-box;border-right:1px solid #e1e4e9;"></div>
<div class="a" style="left:320.5px;top:548.4px;width:408.0px;height:63.0px;background:#d9dee5;"></div>
<div class="a" style="left:728.5px;top:548.4px;width:20.5px;height:2.0px;background:#d9dee5;"></div>
<div class="a" style="left:728.5px;top:550.4px;width:20.5px;height:61px;border-right:1px solid #e1e4e9;border-bottom:1px solid #e1e4e9;border-left:1px solid #e1e4e9;box-sizing:border-box;"></div>
<div class="a" style="left:728.5px;top:581.5px;width:20.5px;height:1px;background:#e1e4e9;"></div>
<div class="a" style="left:321px;top:550.8px;width:26.30000000000001px;height:31.300000000000068px;background:#f2f2f2;"></div><svg class="a" style="left:328.6px;top:556.1999999999999px" width="11" height="11.2" viewBox="0 -1536 1792 1792" preserveAspectRatio="xMidYMid meet"><path fill="#1c1c1c" transform="scale(1,-1)" d="M1792 640C1792 657 1785 673 1773 685L1517 941C1505 953 1489 960 1472 960C1437 960 1408 931 1408 896V768H1024V1152H1152C1187 1152 1216 1181 1216 1216C1216 1233 1209 1249 1197 1261L941 1517C929 1529 913 1536 896 1536C879 1536 863 1529 851 1517L595 1261C583 1249 576 1233 576 1216C576 1181 605 1152 640 1152H768V768H384V896C384 931 355 960 320 960C303 960 287 953 275 941L19 685C7 673 0 657 0 640C0 623 7 607 19 595L275 339C287 327 303 320 320 320C355 320 384 349 384 384V512H768V128H640C605 128 576 99 576 64C576 47 583 31 595 19L851 -237C863 -249 879 -256 896 -256C913 -256 929 -249 941 -237L1197 19C1209 31 1216 47 1216 64C1216 99 1187 128 1152 128H1024V512H1408V384C1408 349 1437 320 1472 320C1489 320 1505 327 1517 339L1773 595C1785 607 1792 623 1792 640Z"/></svg>
<div class="a" style="left:348.2px;top:551px;width:76.80000000000001px;height:27.200000000000045px;background:#fff;"></div><span class="t" id="t59" style="left:390.8px;top:558.0px;font-size:11px;line-height:12px;color:#444;letter-spacing:-0.243px;">161.50</span>
<div class="a" style="left:347.3px;top:580px;width:380.7px;height:2.1000000000000227px;background:#eef0f3;"></div>
<div class="a" style="left:428px;top:551px;width:192.79999999999995px;height:27.200000000000045px;background:#f8f9fb;"></div><span class="t" id="t60" style="left:435px;top:557.1px;font-size:11px;line-height:12px;color:#333;letter-spacing:-0.435px;">TVA 20%</span><svg class="a" style="left:607.5999999999999px;top:563.5px" width="6" height="3.2" viewBox="0 0 6 3.2"><path d="M0 0h6L3 3.2z" fill="#111"/></svg>
<div class="a" style="left:624.3px;top:551px;width:102.70000000000005px;height:27.200000000000045px;background:#fff;"></div><span class="t" id="t61" style="left:698.3px;top:558.0px;font-size:11px;line-height:12px;color:#444;letter-spacing:-0.166px;">32.30</span>
<div class="a" style="left:729.3px;top:552px;width:18.8px;height:28.6px;background:#e91e63;border-radius:3px;"></div><svg class="a" style="left:732.5999999999999px;top:557.5px" width="12.5" height="16.2" viewBox="0 -1408 1408 1536" preserveAspectRatio="xMidYMid meet"><path fill="#fff" transform="scale(1,-1)" d="M512 160C512 142 498 128 480 128H416C398 128 384 142 384 160V864C384 882 398 896 416 896H480C498 896 512 882 512 864V160ZM768 160C768 142 754 128 736 128H672C654 128 640 142 640 160V864C640 882 654 896 672 896H736C754 896 768 882 768 864V160ZM1024 160C1024 142 1010 128 992 128H928C910 128 896 142 896 160V864C896 882 910 896 928 896H992C1010 896 1024 882 1024 864V160ZM480 1152 529 1269C532 1273 540 1279 546 1280H863C868 1279 877 1273 880 1269L928 1152ZM1408 1120C1408 1138 1394 1152 1376 1152H1067L997 1319C977 1368 917 1408 864 1408H544C491 1408 431 1368 411 1319L341 1152H32C14 1152 0 1138 0 1120V1056C0 1038 14 1024 32 1024H128V72C128 -38 200 -128 288 -128H1120C1208 -128 1280 -34 1280 76V1024H1376C1394 1024 1408 1038 1408 1056Z"/></svg>
<div class="a" style="left:322px;top:583.3px;width:103px;height:26.200000000000045px;background:#fff;"></div>
<div class="a" style="left:428px;top:583.3px;width:192.79999999999995px;height:26.200000000000045px;background:#f8f9fb;"></div><span class="t" id="t62" style="left:435px;top:588.9px;font-size:11px;line-height:12px;color:#b4b8bd;letter-spacing:-0.204px;">Choose</span><svg class="a" style="left:607.5999999999999px;top:595.3px" width="6" height="3.2" viewBox="0 0 6 3.2"><path d="M0 0h6L3 3.2z" fill="#111"/></svg>
<div class="a" style="left:624.3px;top:583.3px;width:102.70000000000005px;height:26.200000000000045px;background:#fff;"></div>
<div class="a" style="left:649px;top:620px;width:100px;height:35px;background:#5e4bb9;border-radius:18px;"></div>
<span class="t" id="t63" style="left:661.8px;top:629px;font-size:15px;line-height:17px;color:#fff;letter-spacing:0.328px;">Equilibrate</span>
<div class="a" style="left:1222px;top:176px;width:1.7px;height:30px;background:repeating-linear-gradient(#c3c7cd 0 1.7px,transparent 1.7px 3.4px);"></div>
<div class="a" style="left:1225.4px;top:176px;width:1.7px;height:30px;background:repeating-linear-gradient(#c3c7cd 0 1.7px,transparent 1.7px 3.4px);"></div>
<div class="a" style="left:1237px;top:100px;width:628px;height:575px;background:#fff;border-radius:10px;"></div>
<div class="a" style="left:1257px;top:100px;width:588px;height:555px;background:#ececee;"></div>
<div class="a" style="left:1277px;top:100px;width:548px;height:440px;background:#fff;box-shadow:0 0 9px rgba(0,0,0,.28);"></div>
<div class="a" style="left:1329px;top:140px;width:1.2px;height:34.5px;background:#1a1a1a;"></div>
<div class="a" style="left:1506.2px;top:140px;width:1.2px;height:34.5px;background:#1a1a1a;"></div>
<div class="a" style="left:1572.8px;top:140px;width:1px;height:34.5px;background:#666;"></div>
<div class="a" style="left:1639px;top:140px;width:1.2px;height:34.5px;background:#1a1a1a;"></div>
<div class="a" style="left:1705.6px;top:140px;width:1px;height:34.5px;background:#666;"></div>
<div class="a" style="left:1772px;top:140px;width:1.2px;height:34.5px;background:#1a1a1a;"></div>
<div class="a" style="left:1329px;top:174px;width:444.2px;height:1.2px;background:#1a1a1a;"></div>
<div class="a" style="left:1639px;top:174px;width:134.2px;height:20px;border:1.2px solid #1a1a1a;box-sizing:border-box;"></div>
<span class="t" id="t64" style="left:1578.8px;top:179px;font-size:9.6px;line-height:11px;color:#000;letter-spacing:-0.302px;font-weight:700;">TOTAL TTC* :</span>
<span class="t" id="t65" style="left:1739.7px;top:179px;font-size:9.6px;line-height:11px;color:#000;letter-spacing:0.109px;font-weight:700;">241,5€</span>
<span class="t" id="t66" style="left:1332.2px;top:197.9px;font-size:9.6px;line-height:11px;color:#000;letter-spacing:0.319px;font-family:'Liberation Sans', 'DejaVu Sans', sans-serif;">Statut : <span style="font-size:11.5px;line-height:0">☑</span> A payer</span>
<span class="t" id="t67" style="left:1332.2px;top:211px;font-size:9.6px;line-height:11px;color:#000;letter-spacing:0.177px;font-family:'Liberation Sans', 'DejaVu Sans', sans-serif;">Règlement par : <span style="font-size:11.5px;line-height:0">☑</span> Virement bancaire</span>
<span class="t" id="t68" style="left:1657.6px;top:378.2px;font-size:9.6px;line-height:11px;color:#000;letter-spacing:-0.063px;">Laetitia <b>WERNERT</b></span>
<span class="t" id="t69" style="left:1645.2px;top:390.8px;font-size:9.6px;line-height:11px;color:#000;letter-spacing:0.121px;">Psychologue clinicienne</span>
<svg class="a" style="left:1621.1px;top:411.85px" width="153.7" height="35.2" viewBox="330 280 830 190"><path fill="none" stroke="#1b1b1b" stroke-width="4.6" stroke-linecap="round" stroke-linejoin="round" d="M450 460C470 400 490 340 505 310C500 360 470 440 480 462C500 470 540 360 590 300C615 285 610 330 595 380C585 420 570 455 585 462C610 465 640 400 660 380C650 410 630 445 650 445C670 445 700 395 715 378C705 405 690 438 708 438C728 438 750 395 765 376C755 400 745 432 762 430C785 428 815 340 828 305C835 290 840 330 825 370C815 395 795 415 780 408C770 400 790 385 820 385C870 385 910 400 940 405C1000 412 1100 430 1150 460M940 405C800 375 500 370 340 400C500 425 800 420 940 405"/></svg>
<span class="t" id="t70" style="left:1332px;top:461.6px;font-size:7px;line-height:7px;color:#111;letter-spacing:0.258px;">Montant à régler au plus tard 3 mois suivant la date de la facturation</span>
<span class="t" id="t71" style="left:1635px;top:462px;font-size:7px;line-height:7px;color:#111;letter-spacing:0.206px;">*TVA non applicable, art. 293 B du CGI</span>
<div class="a" style="left:1329px;top:472px;width:445.8px;height:4px;background:#d29a9f;"></div>
<div class="a" style="left:1771px;top:457.2px;width:3.8px;height:19px;background:#d29a9f;"></div>
<svg class="a" style="left:1837px;top:647px" width="8" height="8" viewBox="0 0 8 8"><path d="M0.5 7.5L7.5 0.5M4.5 7.5L7.5 4.5" stroke="#333" stroke-width="0.8" fill="none"/></svg>
<div class="a" style="left:285px;top:698px;width:1570px;height:400px;background:#fff;border-radius:10px;"></div>
<span class="t" id="t72" style="left:316.3px;top:710px;font-size:13px;line-height:15px;color:#5f6b76;letter-spacing:0.132px;font-weight:700;">Accounting movements</span>
<div class="a" style="left:315px;top:736.3px;width:13px;height:13px;background:#0b6be6;border-radius:2.5px;"></div>
<svg class="a" style="left:315px;top:736.3px" width="13" height="13" viewBox="0 0 13 13"><path d="M3 6.7L5.4 9.2L10 3.8" stroke="#fff" stroke-width="1.9" fill="none"/></svg>
<span class="t" id="t73" style="left:334.3px;top:735px;font-size:13px;line-height:15px;color:#afb4ba;letter-spacing:0.147px;font-weight:700;">Expert accounting entry</span>
<div class="a" style="left:315px;top:760.1px;width:1510px;height:23px;background:#23bcc9;"></div>
<div class="a" style="left:315px;top:760.1px;width:5px;height:82.2px;background:#23bcc9;"></div>
<span class="t" id="t74" style="left:330.5px;top:763.8000000000001px;font-size:13px;line-height:15px;color:#fff;letter-spacing:0.029px;font-weight:700;">Lignes comptables tiers</span>
<div class="a" style="left:320.5px;top:783.1px;width:882.0px;height:26.899999999999977px;border-left:1px solid #e1e4e9;box-sizing:border-box;"></div><span class="t" id="t75" style="left:331.4px;top:788.6px;font-size:13px;line-height:15px;color:#afb4ba;letter-spacing:-0.034px;font-weight:700;">Label</span><svg class="a" style="left:1189.0px;top:798.0px" width="8" height="8" viewBox="0 0 8 8"><path d="M0.5 7.5L7.5 0.5M4.5 7.5L7.5 4.5" stroke="#444" stroke-width="0.8" fill="none"/></svg>
<div class="a" style="left:1202.5px;top:783.1px;width:196.9000000000001px;height:26.899999999999977px;border-left:1px solid #e1e4e9;box-sizing:border-box;"></div><span class="t" id="t76" style="left:1213.4px;top:788.6px;font-size:13px;line-height:15px;color:#afb4ba;letter-spacing:-0.001px;font-weight:700;">Accounting Account</span><svg class="a" style="left:1385.9px;top:798.0px" width="8" height="8" viewBox="0 0 8 8"><path d="M0.5 7.5L7.5 0.5M4.5 7.5L7.5 4.5" stroke="#444" stroke-width="0.8" fill="none"/></svg>
<div class="a" style="left:1399.4px;top:783.1px;width:106.09999999999991px;height:26.899999999999977px;border-left:1px solid #e1e4e9;box-sizing:border-box;"></div><span class="t" id="t77" style="left:1410.3000000000002px;top:788.6px;font-size:13px;line-height:15px;color:#afb4ba;letter-spacing:0.240px;font-weight:700;">Debit</span><svg class="a" style="left:1492.0px;top:798.0px" width="8" height="8" viewBox="0 0 8 8"><path d="M0.5 7.5L7.5 0.5M4.5 7.5L7.5 4.5" stroke="#444" stroke-width="0.8" fill="none"/></svg>
<div class="a" style="left:1505.5px;top:783.1px;width:105.79999999999995px;height:26.899999999999977px;border-left:1px solid #e1e4e9;box-sizing:border-box;"></div><span class="t" id="t78" style="left:1516.4px;top:788.6px;font-size:13px;line-height:15px;color:#afb4ba;letter-spacing:0.190px;font-weight:700;">Credit</span><svg class="a" style="left:1597.8px;top:798.0px" width="8" height="8" viewBox="0 0 8 8"><path d="M0.5 7.5L7.5 0.5M4.5 7.5L7.5 4.5" stroke="#444" stroke-width="0.8" fill="none"/></svg>
<div class="a" style="left:1611.3px;top:783.1px;width:105.90000000000009px;height:26.899999999999977px;border-left:1px solid #e1e4e9;box-sizing:border-box;"></div>
<div class="a" style="left:1702.0px;top:805.3px;width:1.2px;height:1.2px;background:#555;"></div><div class="a" style="left:1705.6000000000001px;top:805.3px;width:1.2px;height:1.2px;background:#555;"></div>
<div class="a" style="left:1717.2px;top:783.1px;width:107.70000000000005px;height:26.899999999999977px;border-left:1px solid #e1e4e9;box-sizing:border-box;border-right:1px solid #e1e4e9;"></div>
<div class="a" style="left:1809.7px;top:805.3px;width:1.2px;height:1.2px;background:#555;"></div><div class="a" style="left:1813.3000000000002px;top:805.3px;width:1.2px;height:1.2px;background:#555;"></div>
<div class="a" style="left:320.5px;top:810.0px;width:1504.4px;height:31.5px;background:#d9dee5;"></div>
<div class="a" style="left:322px;top:813.0px;width:879.5px;height:27.0px;background:#fff;"></div><span class="t" id="t79" style="left:324.4px;top:820.0px;font-size:11px;line-height:12px;color:#3a3a3a;letter-spacing:-0.389px;">F/E-2023-10-008-AS</span>
<div class="a" style="left:1204.3px;top:813.0px;width:194.0px;height:27.0px;background:#f8f9fb;"></div><span class="t" id="t80" style="left:1211.3px;top:819.0px;font-size:11px;line-height:12px;color:#b4b8bd;letter-spacing:-0.204px;">Choose</span><svg class="a" style="left:1385.1px;top:825.4px" width="6" height="3.2" viewBox="0 0 6 3.2"><path d="M0 0h6L3 3.2z" fill="#111"/></svg>
<div class="a" style="left:1401px;top:813.0px;width:103.40000000000009px;height:27.0px;background:#fff;"></div>
<div class="a" style="left:1507px;top:813.0px;width:103.40000000000009px;height:27.0px;background:#fff;"></div>
<div class="a" style="left:1611.8px;top:812.0px;width:105.20000000000005px;height:28.300000000000068px;background:#f2f2f2;"></div>
<div class="a" style="left:1717.8px;top:812.0px;width:105.60000000000014px;height:28.300000000000068px;background:#f2f2f2;"></div>
<div class="a" style="left:315px;top:842.2px;width:1510px;height:23px;background:#7d8bc6;"></div>
<div class="a" style="left:315px;top:842.2px;width:5px;height:114px;background:#7d8bc6;"></div>
<span class="t" id="t81" style="left:330.5px;top:845.9000000000001px;font-size:13px;line-height:15px;color:#fff;letter-spacing:0.044px;font-weight:700;">Lignes comptables produits</span>
<div class="a" style="left:320.5px;top:865.2px;width:1075.8px;height:25.59999999999991px;border-left:1px solid #e1e4e9;box-sizing:border-box;"></div><span class="t" id="t82" style="left:331.4px;top:870.7px;font-size:13px;line-height:15px;color:#afb4ba;letter-spacing:-0.034px;font-weight:700;">Label</span><svg class="a" style="left:1382.8px;top:878.8px" width="8" height="8" viewBox="0 0 8 8"><path d="M0.5 7.5L7.5 0.5M4.5 7.5L7.5 4.5" stroke="#444" stroke-width="0.8" fill="none"/></svg>
<div class="a" style="left:1396.3px;top:865.2px;width:196.0px;height:25.59999999999991px;border-left:1px solid #e1e4e9;box-sizing:border-box;"></div><span class="t" id="t83" style="left:1407.2px;top:870.7px;font-size:13px;line-height:15px;color:#afb4ba;letter-spacing:-0.001px;font-weight:700;">Accounting Account</span><svg class="a" style="left:1578.8px;top:878.8px" width="8" height="8" viewBox="0 0 8 8"><path d="M0.5 7.5L7.5 0.5M4.5 7.5L7.5 4.5" stroke="#444" stroke-width="0.8" fill="none"/></svg>
<div class="a" style="left:1592.3px;top:865.2px;width:105.90000000000009px;height:25.59999999999991px;border-left:1px solid #e1e4e9;box-sizing:border-box;"></div><span class="t" id="t84" style="left:1603.2px;top:870.7px;font-size:13px;line-height:15px;color:#afb4ba;letter-spacing:0.240px;font-weight:700;">Debit</span><svg class="a" style="left:1684.7px;top:878.8px" width="8" height="8" viewBox="0 0 8 8"><path d="M0.5 7.5L7.5 0.5M4.5 7.5L7.5 4.5" stroke="#444" stroke-width="0.8" fill="none"/></svg>
<div class="a" style="left:1698.2px;top:865.2px;width:106.20000000000005px;height:25.59999999999991px;border-left:1px solid #e1e4e9;box-sizing:border-box;"></div><span class="t" id="t85" style="left:1709.1000000000001px;top:870.7px;font-size:13px;line-height:15px;color:#afb4ba;letter-spacing:0.190px;font-weight:700;">Credit</span><svg class="a" style="left:1790.9px;top:878.8px" width="8" height="8" viewBox="0 0 8 8"><path d="M0.5 7.5L7.5 0.5M4.5 7.5L7.5 4.5" stroke="#444" stroke-width="0.8" fill="none"/></svg>
<div class="a" style="left:1804.4px;top:865.2px;width:20.5px;height:25.59999999999991px;border-left:1px solid #e1e4e9;box-sizing:border-box;border-right:1px solid #e1e4e9;"></div>
<div class="a" style="left:320.5px;top:890.8px;width:1483.9px;height:65.20000000000005px;background:#d9dee5;"></div>
<div class="a" style="left:1804.4px;top:890.8px;width:20.5px;height:2.0px;background:#d9dee5;"></div>
<div class="a" style="left:1804.4px;top:892.8px;width:20.5px;height:63.2px;border-right:1px solid #e1e4e9;border-left:1px solid #e1e4e9;box-sizing:border-box;"></div>
<div class="a" style="left:1804.4px;top:925.5px;width:20.5px;height:1px;background:#e1e4e9;"></div>
<div class="a" style="left:321px;top:892.9px;width:26.30000000000001px;height:32.39999999999998px;background:#f2f2f2;"></div><svg class="a" style="left:328.6px;top:900.0px" width="11" height="11.2" viewBox="0 -1536 1792 1792" preserveAspectRatio="xMidYMid meet"><path fill="#1c1c1c" transform="scale(1,-1)" d="M1792 640C1792 657 1785 673 1773 685L1517 941C1505 953 1489 960 1472 960C1437 960 1408 931 1408 896V768H1024V1152H1152C1187 1152 1216 1181 1216 1216C1216 1233 1209 1249 1197 1261L941 1517C929 1529 913 1536 896 1536C879 1536 863 1529 851 1517L595 1261C583 1249 576 1233 576 1216C576 1181 605 1152 640 1152H768V768H384V896C384 931 355 960 320 960C303 960 287 953 275 941L19 685C7 673 0 657 0 640C0 623 7 607 19 595L275 339C287 327 303 320 320 320C355 320 384 349 384 384V512H768V128H640C605 128 576 99 576 64C576 47 583 31 595 19L851 -237C863 -249 879 -256 896 -256C913 -256 929 -249 941 -237L1197 19C1209 31 1216 47 1216 64C1216 99 1187 128 1152 128H1024V512H1408V384C1408 349 1437 320 1472 320C1489 320 1505 327 1517 339L1773 595C1785 607 1792 623 1792 640Z"/></svg>
<div class="a" style="left:347.3px;top:922.7px;width:1456.7px;height:2.599999999999909px;background:#eef0f3;"></div>
<div class="a" style="left:347.8px;top:894px;width:1047.4px;height:27px;background:#fff;"></div><span class="t" id="t86" style="left:350.2px;top:902.0px;font-size:11px;line-height:12px;color:#3a3a3a;letter-spacing:-0.389px;">F/E-2023-10-008-AS</span>
<div class="a" style="left:1398px;top:894px;width:193.29999999999995px;height:27px;background:#f8f9fb;"></div><span class="t" id="t87" style="left:1405px;top:901.0px;font-size:11px;line-height:12px;color:#b4b8bd;letter-spacing:-0.204px;">Choose</span><svg class="a" style="left:1578.1px;top:906.4px" width="6" height="3.2" viewBox="0 0 6 3.2"><path d="M0 0h6L3 3.2z" fill="#111"/></svg>
<div class="a" style="left:1593.8px;top:894px;width:103.20000000000005px;height:27px;background:#fff;"></div><span class="t" id="t88" style="left:1668.8px;top:902.2px;font-size:11px;line-height:12px;color:#444;letter-spacing:-0.266px;">50.00</span>
<div class="a" style="left:1699.7px;top:894px;width:103.29999999999995px;height:27px;background:#fff;"></div>
<div class="a" style="left:1805px;top:896px;width:19px;height:29px;background:#e91e63;border-radius:3px;"></div><svg class="a" style="left:1808.3px;top:901.5px" width="12.5" height="16.2" viewBox="0 -1408 1408 1536" preserveAspectRatio="xMidYMid meet"><path fill="#fff" transform="scale(1,-1)" d="M512 160C512 142 498 128 480 128H416C398 128 384 142 384 160V864C384 882 398 896 416 896H480C498 896 512 882 512 864V160ZM768 160C768 142 754 128 736 128H672C654 128 640 142 640 160V864C640 882 654 896 672 896H736C754 896 768 882 768 864V160ZM1024 160C1024 142 1010 128 992 128H928C910 128 896 142 896 160V864C896 882 910 896 928 896H992C1010 896 1024 882 1024 864V160ZM480 1152 529 1269C532 1273 540 1279 546 1280H863C868 1279 877 1273 880 1269L928 1152ZM1408 1120C1408 1138 1394 1152 1376 1152H1067L997 1319C977 1368 917 1408 864 1408H544C491 1408 431 1368 411 1319L341 1152H32C14 1152 0 1138 0 1120V1056C0 1038 14 1024 32 1024H128V72C128 -38 200 -128 288 -128H1120C1208 -128 1280 -34 1280 76V1024H1376C1394 1024 1408 1038 1408 1056Z"/></svg>
<div class="a" style="left:322px;top:927.2px;width:1073.2px;height:26.59999999999991px;background:#fff;"></div><span class="t" id="t89" style="left:324.4px;top:934.0px;font-size:11px;line-height:12px;color:#3a3a3a;letter-spacing:-0.389px;">F/E-2023-10-008-AS</span>
<div class="a" style="left:1398px;top:927.2px;width:193.29999999999995px;height:26.59999999999991px;background:#f8f9fb;"></div><span class="t" id="t90" style="left:1405px;top:933.0px;font-size:11px;line-height:12px;color:#b4b8bd;letter-spacing:-0.204px;">Choose</span><svg class="a" style="left:1578.1px;top:939.4px" width="6" height="3.2" viewBox="0 0 6 3.2"><path d="M0 0h6L3 3.2z" fill="#111"/></svg>
<div class="a" style="left:1593.8px;top:927.2px;width:103.20000000000005px;height:26.59999999999991px;background:#fff;"></div>
<div class="a" style="left:1699.7px;top:927.2px;width:103.29999999999995px;height:26.59999999999991px;background:#fff;"></div>
<div class="a" style="left:315px;top:956px;width:1510px;height:23px;background:#362a63;"></div>
<div class="a" style="left:315px;top:956px;width:5px;height:81.4px;background:#362a63;"></div>
<span class="t" id="t91" style="left:330.5px;top:959.7px;font-size:13px;line-height:15px;color:#fff;letter-spacing:-0.062px;font-weight:700;">Lignes comptables TVA</span>
<div class="a" style="left:320.5px;top:979px;width:882.0px;height:26.899999999999977px;border-left:1px solid #e1e4e9;box-sizing:border-box;"></div><span class="t" id="t92" style="left:331.4px;top:984.5px;font-size:13px;line-height:15px;color:#afb4ba;letter-spacing:-0.034px;font-weight:700;">Label</span><svg class="a" style="left:1189.0px;top:993.9px" width="8" height="8" viewBox="0 0 8 8"><path d="M0.5 7.5L7.5 0.5M4.5 7.5L7.5 4.5" stroke="#444" stroke-width="0.8" fill="none"/></svg>
<div class="a" style="left:1202.5px;top:979px;width:196.9000000000001px;height:26.899999999999977px;border-left:1px solid #e1e4e9;box-sizing:border-box;"></div><span class="t" id="t93" style="left:1213.4px;top:984.5px;font-size:13px;line-height:15px;color:#afb4ba;letter-spacing:-0.001px;font-weight:700;">Accounting Account</span><svg class="a" style="left:1385.9px;top:993.9px" width="8" height="8" viewBox="0 0 8 8"><path d="M0.5 7.5L7.5 0.5M4.5 7.5L7.5 4.5" stroke="#444" stroke-width="0.8" fill="none"/></svg>
<div class="a" style="left:1399.4px;top:979px;width:106.09999999999991px;height:26.899999999999977px;border-left:1px solid #e1e4e9;box-sizing:border-box;"></div><span class="t" id="t94" style="left:1410.3000000000002px;top:984.5px;font-size:13px;line-height:15px;color:#afb4ba;letter-spacing:0.240px;font-weight:700;">Debit</span><svg class="a" style="left:1492.0px;top:993.9px" width="8" height="8" viewBox="0 0 8 8"><path d="M0.5 7.5L7.5 0.5M4.5 7.5L7.5 4.5" stroke="#444" stroke-width="0.8" fill="none"/></svg>
<div class="a" style="left:1505.5px;top:979px;width:105.79999999999995px;height:26.899999999999977px;border-left:1px solid #e1e4e9;box-sizing:border-box;"></div><span class="t" id="t95" style="left:1516.4px;top:984.5px;font-size:13px;line-height:15px;color:#afb4ba;letter-spacing:0.190px;font-weight:700;">Credit</span><svg class="a" style="left:1597.8px;top:993.9px" width="8" height="8" viewBox="0 0 8 8"><path d="M0.5 7.5L7.5 0.5M4.5 7.5L7.5 4.5" stroke="#444" stroke-width="0.8" fill="none"/></svg>
<div class="a" style="left:1611.3px;top:979px;width:105.90000000000009px;height:26.899999999999977px;border-left:1px solid #e1e4e9;box-sizing:border-box;"></div>
<div class="a" style="left:1717.2px;top:979px;width:107.70000000000005px;height:26.899999999999977px;border-left:1px solid #e1e4e9;box-sizing:border-box;border-right:1px solid #e1e4e9;"></div>
<div class="a" style="left:320.5px;top:1005.9px;width:1504.4px;height:31.500000000000114px;background:#d9dee5;"></div>
<div class="a" style="left:322px;top:1008.9px;width:879.5px;height:27.000000000000114px;background:#fff;"></div><span class="t" id="t96" style="left:324.4px;top:1015.9000000000001px;font-size:11px;line-height:12px;color:#3a3a3a;letter-spacing:-0.389px;">F/E-2023-10-008-AS</span>
<div class="a" style="left:1204.3px;top:1008.9px;width:194.0px;height:27.000000000000114px;background:#f8f9fb;"></div><span class="t" id="t97" style="left:1211.3px;top:1014.9000000000001px;font-size:11px;line-height:12px;color:#b4b8bd;letter-spacing:-0.204px;">Choose</span><svg class="a" style="left:1385.1px;top:1021.3000000000001px" width="6" height="3.2" viewBox="0 0 6 3.2"><path d="M0 0h6L3 3.2z" fill="#111"/></svg>
<div class="a" style="left:1401px;top:1008.9px;width:103.40000000000009px;height:27.000000000000114px;background:#fff;"></div>
<div class="a" style="left:1507px;top:1008.9px;width:103.40000000000009px;height:27.000000000000114px;background:#fff;"></div>
<div class="a" style="left:1611.8px;top:1007.9px;width:105.20000000000005px;height:28.300000000000068px;background:#f2f2f2;"></div>
<div class="a" style="left:1717.8px;top:1007.9px;width:105.60000000000014px;height:28.300000000000068px;background:#f2f2f2;"></div>
<div class="a" style="left:1865px;top:148px;width:15px;height:901px;background:#f1f1f1;"></div>
<div class="a" style="left:1867px;top:447px;width:11px;height:581px;background:#c1c1c1;"></div>
<svg class="a" style="left:1868.8px;top:153.8px" width="7.4" height="4.2" viewBox="0 0 8 4.5"><path d="M0 4.5h8L4 0z" fill="#505050"/></svg>
<svg class="a" style="left:1868.8px;top:1038.8px" width="7.4" height="4.2" viewBox="0 0 8 4.5"><path d="M0 0h8L4 4.5z" fill="#505050"/></svg>
</div>
</body></html>
